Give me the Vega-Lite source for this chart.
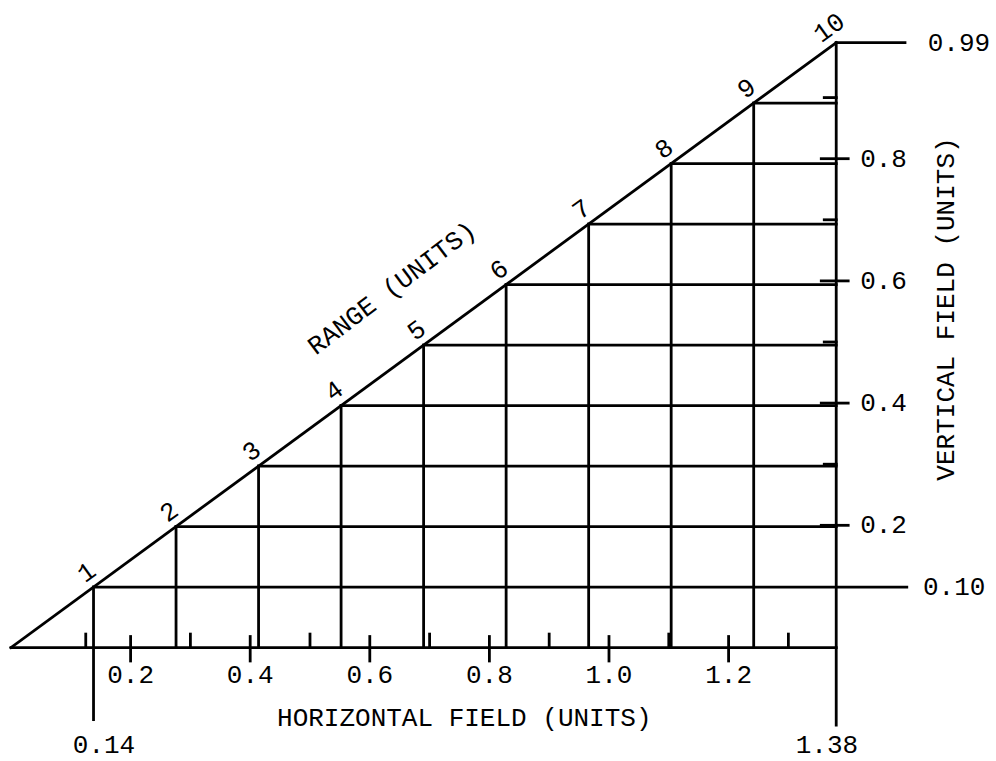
{
  "$schema": "https://vega.github.io/schema/vega-lite/v6.json",
  "width": 996,
  "height": 761,
  "padding": 0,
  "autosize": {"type": "none"},
  "background": "white",
  "config": {"view": {"stroke": null}},
  "datasets": {
    "segments": [
      {"x": 0, "y": 0, "x2": 1.38, "y2": 0.99},
      {"x": 0, "y": 0, "x2": 1.38, "y2": 0},
      {"x": 1.38, "y": -0.127, "x2": 1.38, "y2": 0.99},
      {"x": 1.38, "y": 0.99, "x2": 1.495, "y2": 0.99},
      {"x": 0.138, "y": -0.118, "x2": 0.138, "y2": 0.099},
      {"x": 0.276, "y": 0, "x2": 0.276, "y2": 0.198},
      {"x": 0.414, "y": 0, "x2": 0.414, "y2": 0.297},
      {"x": 0.552, "y": 0, "x2": 0.552, "y2": 0.396},
      {"x": 0.69, "y": 0, "x2": 0.69, "y2": 0.495},
      {"x": 0.828, "y": 0, "x2": 0.828, "y2": 0.594},
      {"x": 0.966, "y": 0, "x2": 0.966, "y2": 0.693},
      {"x": 1.104, "y": 0, "x2": 1.104, "y2": 0.792},
      {"x": 1.242, "y": 0, "x2": 1.242, "y2": 0.891},
      {"x": 0.138, "y": 0.099, "x2": 1.498, "y2": 0.099},
      {"x": 0.276, "y": 0.198, "x2": 1.38, "y2": 0.198},
      {"x": 0.414, "y": 0.297, "x2": 1.38, "y2": 0.297},
      {"x": 0.552, "y": 0.396, "x2": 1.38, "y2": 0.396},
      {"x": 0.69, "y": 0.495, "x2": 1.38, "y2": 0.495},
      {"x": 0.828, "y": 0.594, "x2": 1.38, "y2": 0.594},
      {"x": 0.966, "y": 0.693, "x2": 1.38, "y2": 0.693},
      {"x": 1.104, "y": 0.792, "x2": 1.38, "y2": 0.792},
      {"x": 1.242, "y": 0.891, "x2": 1.38, "y2": 0.891},
      {"x": 0.125, "y": 0, "x2": 0.125, "y2": 0.022},
      {"x": 0.3, "y": 0, "x2": 0.3, "y2": 0.022},
      {"x": 0.5, "y": 0, "x2": 0.5, "y2": 0.022},
      {"x": 0.7, "y": 0, "x2": 0.7, "y2": 0.022},
      {"x": 0.9, "y": 0, "x2": 0.9, "y2": 0.022},
      {"x": 1.1, "y": 0, "x2": 1.1, "y2": 0.022},
      {"x": 1.3, "y": 0, "x2": 1.3, "y2": 0.022},
      {"x": 0.2, "y": -0.022, "x2": 0.2, "y2": 0.018},
      {"x": 0.4, "y": -0.022, "x2": 0.4, "y2": 0.018},
      {"x": 0.6, "y": -0.022, "x2": 0.6, "y2": 0.018},
      {"x": 0.8, "y": -0.022, "x2": 0.8, "y2": 0.018},
      {"x": 1.0, "y": -0.022, "x2": 1.0, "y2": 0.018},
      {"x": 1.2, "y": -0.022, "x2": 1.2, "y2": 0.018},
      {"x": 1.36, "y": 0.3, "x2": 1.38, "y2": 0.3},
      {"x": 1.36, "y": 0.5, "x2": 1.38, "y2": 0.5},
      {"x": 1.36, "y": 0.7, "x2": 1.38, "y2": 0.7},
      {"x": 1.36, "y": 0.9, "x2": 1.38, "y2": 0.9},
      {"x": 1.355, "y": 0.2, "x2": 1.4, "y2": 0.2},
      {"x": 1.355, "y": 0.4, "x2": 1.4, "y2": 0.4},
      {"x": 1.355, "y": 0.6, "x2": 1.4, "y2": 0.6},
      {"x": 1.355, "y": 0.8, "x2": 1.4, "y2": 0.8}
    ],
    "rangeMarks": [
      {"label": "1", "x": 0.138, "y": 0.099},
      {"label": "2", "x": 0.276, "y": 0.198},
      {"label": "3", "x": 0.414, "y": 0.297},
      {"label": "4", "x": 0.552, "y": 0.396},
      {"label": "5", "x": 0.69, "y": 0.495},
      {"label": "6", "x": 0.828, "y": 0.594},
      {"label": "7", "x": 0.966, "y": 0.693},
      {"label": "8", "x": 1.104, "y": 0.792},
      {"label": "9", "x": 1.242, "y": 0.891},
      {"label": "10", "x": 1.38, "y": 0.99}
    ],
    "centerLabels": [
      {"label": "0.2", "x": 0.2, "y": -0.045},
      {"label": "0.4", "x": 0.4, "y": -0.045},
      {"label": "0.6", "x": 0.6, "y": -0.045},
      {"label": "0.8", "x": 0.8, "y": -0.045},
      {"label": "1.0", "x": 1.0, "y": -0.045},
      {"label": "1.2", "x": 1.2, "y": -0.045},
      {"label": "0.14", "x": 0.1555, "y": -0.16},
      {"label": "1.38", "x": 1.3645, "y": -0.16},
      {"label": "HORIZONTAL FIELD (UNITS)", "x": 0.758, "y": -0.115}
    ],
    "leftLabels": [
      {"label": "0.99", "x": 1.533, "y": 0.99},
      {"label": "0.8", "x": 1.42, "y": 0.8},
      {"label": "0.6", "x": 1.42, "y": 0.6},
      {"label": "0.4", "x": 1.42, "y": 0.4},
      {"label": "0.2", "x": 1.42, "y": 0.2},
      {"label": "0.10", "x": 1.525, "y": 0.099}
    ],
    "vTitle": [{"label": "VERTICAL FIELD (UNITS)", "x": 1.5635, "y": 0.554}],
    "rTitle": [{"label": "RANGE (UNITS)", "x": 0.637, "y": 0.588}]
  },
  "encoding": {
    "x": {"field": "x", "type": "quantitative", "axis": null, "scale": {"domain": [-0.0184, 1.6472], "nice": false, "zero": false}},
    "y": {"field": "y", "type": "quantitative", "axis": null, "scale": {"domain": [-0.1857, 1.0597], "nice": false, "zero": false}}
  },
  "layer": [
    {
      "data": {"name": "segments"},
      "mark": {"type": "rule", "color": "black", "strokeWidth": 2.8, "strokeCap": "square"},
      "encoding": {
        "x2": {"field": "x2"},
        "y2": {"field": "y2"}
      }
    },
    {
      "data": {"name": "rangeMarks"},
      "mark": {"type": "text", "font": "Liberation Mono", "fontSize": 26, "angle": -36, "align": "center", "baseline": "middle", "dy": -16, "dx": 3, "color": "black"},
      "encoding": {"text": {"field": "label"}}
    },
    {
      "data": {"name": "centerLabels"},
      "mark": {"type": "text", "font": "Liberation Mono", "fontSize": 26, "align": "center", "baseline": "middle", "color": "black"},
      "encoding": {"text": {"field": "label"}}
    },
    {
      "data": {"name": "leftLabels"},
      "mark": {"type": "text", "font": "Liberation Mono", "fontSize": 26, "align": "left", "baseline": "middle", "color": "black"},
      "encoding": {"text": {"field": "label"}}
    },
    {
      "data": {"name": "vTitle"},
      "mark": {"type": "text", "font": "Liberation Mono", "fontSize": 26, "angle": -90, "align": "center", "baseline": "middle", "color": "black"},
      "encoding": {"text": {"field": "label"}}
    },
    {
      "data": {"name": "rTitle"},
      "mark": {"type": "text", "font": "Liberation Mono", "fontSize": 26, "angle": -37, "align": "center", "baseline": "middle", "color": "black"},
      "encoding": {"text": {"field": "label"}}
    }
  ]
}
